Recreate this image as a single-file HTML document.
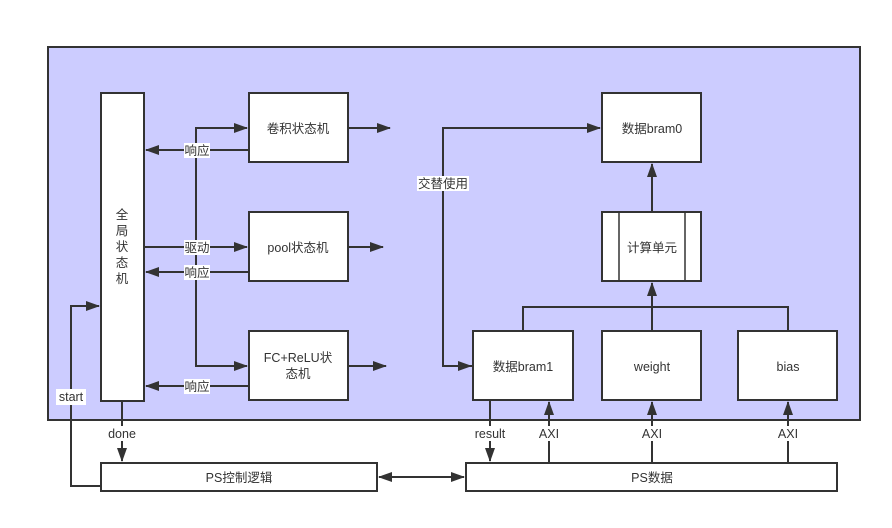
<!DOCTYPE html>
<html><head><meta charset="utf-8"><style>
body{margin:0;background:#fff;}
svg text{font-family:"Liberation Sans","Noto Sans CJK SC",sans-serif;font-size:12.5px;fill:#333;}
</style></head><body>
<svg width="892" height="523" xmlns="http://www.w3.org/2000/svg">
<defs><marker id="a" markerWidth="14" markerHeight="10" refX="13" refY="5" orient="auto" markerUnits="userSpaceOnUse"><path d="M0,0 L14,5 L0,10 Z" fill="#333"/></marker>
<marker id="b" markerWidth="14" markerHeight="10" refX="1" refY="5" orient="auto" markerUnits="userSpaceOnUse"><path d="M14,0 L0,5 L14,10 Z" fill="#333"/></marker></defs>
<rect x="48" y="47" width="812" height="373" fill="#ccccff" stroke="#333" stroke-width="2"/>
<g fill="#fff" stroke="#333" stroke-width="2">
<rect x="101" y="93" width="43" height="308"/>
<rect x="249" y="93" width="99" height="69"/>
<rect x="249" y="212" width="99" height="69"/>
<rect x="249" y="331" width="99" height="69"/>
<rect x="602" y="93" width="99" height="69"/>
<rect x="602" y="212" width="99" height="69"/>
<rect x="473" y="331" width="100" height="69"/>
<rect x="602" y="331" width="99" height="69"/>
<rect x="738" y="331" width="99" height="69"/>
<rect x="101" y="463" width="276" height="28"/>
<rect x="466" y="463" width="371" height="28"/>
</g>
<g stroke="#333" stroke-width="2" fill="none">
<line x1="619" y1="212" x2="619" y2="281" stroke-width="1.5"/><line x1="685" y1="212" x2="685" y2="281" stroke-width="1.5"/>
<line x1="348" y1="128" x2="390" y2="128" marker-end="url(#a)"/>
<line x1="348" y1="247" x2="383" y2="247" marker-end="url(#a)"/>
<line x1="348" y1="366" x2="386" y2="366" marker-end="url(#a)"/>
<polyline points="144,247 247,247" marker-end="url(#a)"/>
<polyline points="247,128 196,128 196,366 247,366" marker-end="url(#a)"/>
<path d="M196,128 L247,128" marker-end="url(#a)"/>
<line x1="249" y1="150" x2="146" y2="150" marker-end="url(#a)"/>
<line x1="249" y1="272" x2="146" y2="272" marker-end="url(#a)"/>
<line x1="249" y1="386" x2="146" y2="386" marker-end="url(#a)"/>
<polyline points="101,486 71,486 71,306 99,306" marker-end="url(#a)"/>
<line x1="122" y1="401" x2="122" y2="461" marker-end="url(#a)"/>
<line x1="379" y1="477" x2="464" y2="477" marker-start="url(#b)" marker-end="url(#a)"/>
<polyline points="473,366 443,366 443,128 600,128" marker-end="url(#a)"/>
<line x1="443" y1="366" x2="471" y2="366" marker-end="url(#a)"/>
<line x1="652" y1="212" x2="652" y2="164" marker-end="url(#a)"/>
<polyline points="523,331 523,307 788,307 788,331"/>
<line x1="652" y1="331" x2="652" y2="283" marker-end="url(#a)"/>
<line x1="490" y1="400" x2="490" y2="461" marker-end="url(#a)"/>
<line x1="549" y1="463" x2="549" y2="402" marker-end="url(#a)"/>
<line x1="652" y1="463" x2="652" y2="402" marker-end="url(#a)"/>
<line x1="788" y1="463" x2="788" y2="402" marker-end="url(#a)"/>
</g>
<g fill="#fff">
<rect x="184" y="143" width="26" height="15"/><rect x="184" y="240" width="26" height="15"/>
<rect x="184" y="265" width="26" height="15"/><rect x="184" y="379" width="26" height="15"/>
<rect x="56" y="389" width="30" height="16"/>
<rect x="417" y="176" width="52" height="15"/>
</g>
<g fill="#ccccff"></g>
<rect x="104" y="426" width="36" height="15" fill="#fff"/>
<rect x="470" y="426" width="40" height="15" fill="#fff"/>
<rect x="536" y="426" width="26" height="15" fill="#fff"/><rect x="639" y="426" width="26" height="15" fill="#fff"/><rect x="775" y="426" width="26" height="15" fill="#fff"/>
<g text-anchor="middle">
<text x="197" y="155">响应</text><text x="197" y="252">驱动</text><text x="197" y="277">响应</text><text x="197" y="391">响应</text>
<text x="71" y="401">start</text><text x="122" y="438">done</text>
<text x="443" y="188">交替使用</text>
<text x="490" y="438">result</text><text x="549" y="438">AXI</text><text x="652" y="438">AXI</text><text x="788" y="438">AXI</text>
<text x="122" y="219">全</text><text x="122" y="235">局</text><text x="122" y="251">状</text><text x="122" y="267">态</text><text x="122" y="283">机</text>
<text x="298" y="133">卷积状态机</text>
<text x="298" y="252">pool状态机</text>
<text x="298" y="362">FC+ReLU状</text><text x="298" y="378">态机</text>
<text x="652" y="133">数据bram0</text>
<text x="652" y="252">计算单元</text>
<text x="523" y="371">数据bram1</text>
<text x="652" y="371">weight</text>
<text x="788" y="371">bias</text>
<text x="239" y="482">PS控制逻辑</text>
<text x="652" y="482">PS数据</text>
</g>
</svg>
</body></html>
